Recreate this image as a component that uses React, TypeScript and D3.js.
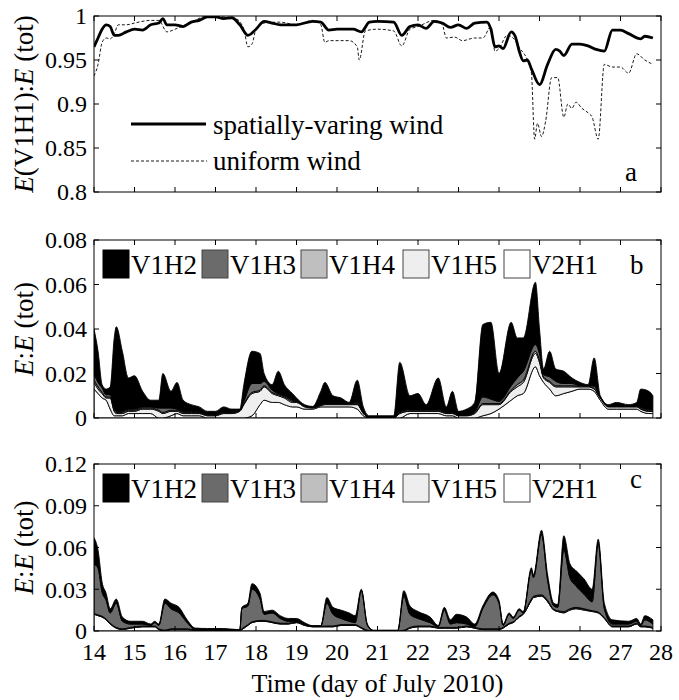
import * as d3 from "d3";
import { useEffect, useRef } from "react";

// ---- panel a: E(V1H1):E(tot) ----
const daysSolid = [14.0, 14.1, 14.2, 14.3, 14.4, 14.5, 14.6, 14.8, 15.0, 15.2, 15.4, 15.6, 15.7, 15.8, 16.0, 16.2, 16.4, 16.6, 16.8, 17.0, 17.2, 17.4, 17.6, 17.8, 18.0, 18.2, 18.4, 18.6, 19.0, 19.4, 19.6, 19.8, 20.0, 20.4, 20.6, 20.8, 21.0, 21.4, 21.6, 21.8, 22.0, 22.2, 22.4, 22.6, 22.8, 23.0, 23.2, 23.4, 23.7, 23.8, 23.9, 24.0, 24.1, 24.3, 24.4, 24.5, 24.6, 24.7, 24.8, 25.0, 25.2, 25.4, 25.5, 25.6, 25.8, 26.0, 26.2, 26.4, 26.6, 26.8, 27.0, 27.2, 27.5, 27.6, 27.8];
const spatialWind = [0.965, 0.975, 0.985, 0.99, 0.988, 0.978, 0.978, 0.982, 0.985, 0.984, 0.99, 0.992, 0.997, 0.99, 0.99, 0.988, 0.993, 0.995, 0.999, 0.999, 0.997, 0.998, 0.99, 0.978, 0.985, 0.994, 0.992, 0.99, 0.99, 0.994, 0.993, 0.984, 0.985, 0.985, 0.982, 0.993, 0.994, 0.993, 0.978, 0.988, 0.99, 0.986, 0.994, 0.992, 0.987, 0.99, 0.986, 0.992, 0.993, 0.985, 0.965, 0.966, 0.963, 0.982, 0.977, 0.96, 0.949, 0.95, 0.94, 0.922, 0.945, 0.962, 0.96, 0.955, 0.968, 0.968, 0.966, 0.962, 0.96, 0.984, 0.984, 0.98, 0.974, 0.977, 0.975];

const daysDashed = [14.0, 14.1, 14.2, 14.3, 14.4, 14.5, 14.6, 14.8, 15.0, 15.4, 15.6, 15.8, 16.0, 16.4, 16.8, 17.2, 17.5, 17.7, 17.8, 17.9, 18.0, 18.2, 18.6, 19.0, 19.4, 19.6, 19.7, 19.8, 20.3, 20.5, 20.55, 20.7, 21.0, 21.4, 21.6, 21.8, 22.0, 22.4, 22.6, 22.7, 22.9, 23.1, 23.4, 23.6, 23.8, 23.9, 24.0, 24.2, 24.35, 24.5, 24.7, 24.8, 24.88, 24.95, 25.05, 25.15, 25.3, 25.45, 25.6, 25.7, 25.8, 25.9, 26.05, 26.2, 26.3, 26.45, 26.6, 26.8, 27.0, 27.2, 27.4, 27.6, 27.8];
const uniformWind = [0.932, 0.945, 0.97, 0.975, 0.974, 0.98, 0.99, 0.99, 0.992, 0.995, 0.995, 0.982, 0.985, 0.993, 1.0, 0.999, 0.997, 0.985, 0.965, 0.968, 0.985, 0.992, 0.993, 0.99, 0.995, 0.99, 0.97, 0.972, 0.972, 0.965, 0.95, 0.983, 0.985, 0.983, 0.966, 0.985, 0.988, 0.995, 0.99, 0.975, 0.976, 0.972, 0.975, 0.975, 0.988, 0.96, 0.963, 0.978, 0.975, 0.964, 0.95, 0.935, 0.86, 0.878, 0.863, 0.88, 0.93, 0.93, 0.885, 0.9, 0.895, 0.902, 0.895, 0.89, 0.885, 0.86, 0.945, 0.942, 0.942, 0.935, 0.957, 0.95, 0.945];

// ---- panel b ----
const daysB = [14.0, 14.1, 14.2, 14.3, 14.4, 14.5, 14.55, 14.7, 14.85, 15.0, 15.2, 15.4, 15.6, 15.7, 15.9, 16.05, 16.2, 16.4, 16.6, 16.8, 17.0, 17.2, 17.4, 17.6, 17.7, 17.9, 18.1, 18.2, 18.4, 18.55, 18.7, 18.9, 19.0, 19.2, 19.4, 19.6, 19.7, 19.9, 20.1, 20.3, 20.5, 20.65, 20.8, 21.0, 21.4, 21.55, 21.8, 22.0, 22.2, 22.5, 22.7, 22.85, 23.0, 23.2, 23.4, 23.6, 23.8, 24.0, 24.3, 24.45, 24.6, 24.9, 25.0, 25.1, 25.25, 25.4, 25.6, 25.8, 26.0, 26.2, 26.35, 26.5, 26.7, 26.9, 27.2, 27.4, 27.5, 27.7, 27.8];
const bV2H1 = [0.013, 0.011, 0.009, 0.008, 0.004, 0.001, 0.001, 0.001, 0.002, 0.002, 0.002, 0.002, 0.0, 0.0, 0.001, 0.002, 0.001, 0.001, 0.001, 0.0, 0.0, 0.0, 0.0, 0.0, 0.0, 0.001, 0.006, 0.008, 0.007, 0.007, 0.006, 0.005, 0.005, 0.004, 0.004, 0.005, 0.005, 0.005, 0.005, 0.005, 0.004, 0.001, 0.0, 0.0, 0.0, 0.0, 0.002, 0.002, 0.002, 0.002, 0.001, 0.001, 0.0, 0.0, 0.0, 0.001, 0.002, 0.004, 0.008, 0.01, 0.011, 0.023, 0.019, 0.016, 0.013, 0.01, 0.011, 0.012, 0.013, 0.013, 0.012, 0.008, 0.004, 0.004, 0.004, 0.004, 0.003, 0.002, 0.002];
const bV1H5 = [0.003, 0.002, 0.002, 0.001, 0.005, 0.002, 0.001, 0.001, 0.001, 0.001, 0.002, 0.002, 0.003, 0.002, 0.002, 0.001, 0.001, 0.001, 0.001, 0.001, 0.001, 0.002, 0.002, 0.003, 0.006, 0.01, 0.006, 0.006, 0.004, 0.003, 0.003, 0.002, 0.002, 0.001, 0.0005, 0.0005, 0.001, 0.001, 0.001, 0.001, 0.002, 0.001, 0.0, 0.0, 0.0, 0.002, 0.001, 0.001, 0.001, 0.001, 0.001, 0.001, 0.001, 0.001, 0.002, 0.005, 0.004, 0.002, 0.004, 0.004, 0.005, 0.006, 0.006, 0.002, 0.003, 0.004, 0.003, 0.002, 0.001, 0.001, 0.001, 0.001, 0.001, 0.001, 0.001, 0.001, 0.001, 0.001, 0.001];
const bV1H4 = [0.001, 0.001, 0.0005, 0.0005, 0.0005, 0.0005, 0.0005, 0.0005, 0.0005, 0.0005, 0.0005, 0.0005, 0.0005, 0.0005, 0.0005, 0.0005, 0.0005, 0.0005, 0.0003, 0.0003, 0.0003, 0.0003, 0.0003, 0.0003, 0.0005, 0.0005, 0.0005, 0.0005, 0.0005, 0.0005, 0.0005, 0.0005, 0.0003, 0.0003, 0.0002, 0.0003, 0.0003, 0.0003, 0.0003, 0.0003, 0.0003, 0.0002, 0.0001, 0.0001, 0.0001, 0.0003, 0.0003, 0.0003, 0.0003, 0.0003, 0.0003, 0.0003, 0.0002, 0.0002, 0.0003, 0.0005, 0.0005, 0.0005, 0.0005, 0.001, 0.001, 0.001, 0.001, 0.0005, 0.0005, 0.0005, 0.0005, 0.0005, 0.0003, 0.0003, 0.0003, 0.0002, 0.0002, 0.0002, 0.0002, 0.0002, 0.0002, 0.0002, 0.0002];
const bV1H3 = [0.003, 0.002, 0.002, 0.001, 0.001, 0.001, 0.0005, 0.0005, 0.0005, 0.0005, 0.0005, 0.0005, 0.001, 0.002, 0.001, 0.0005, 0.0005, 0.0005, 0.0003, 0.0003, 0.0003, 0.0003, 0.0003, 0.0003, 0.001, 0.004, 0.003, 0.002, 0.001, 0.0005, 0.0005, 0.0005, 0.0003, 0.0003, 0.0002, 0.0003, 0.0003, 0.0003, 0.0003, 0.0003, 0.0005, 0.0003, 0.0001, 0.0001, 0.0001, 0.0005, 0.0005, 0.0005, 0.0005, 0.0005, 0.0003, 0.0003, 0.0002, 0.0002, 0.0005, 0.003, 0.002, 0.001, 0.002, 0.003, 0.004, 0.003, 0.003, 0.001, 0.002, 0.002, 0.001, 0.001, 0.0003, 0.0003, 0.001, 0.0003, 0.0002, 0.0002, 0.0002, 0.0002, 0.0005, 0.0005, 0.0005];
const bV1H2 = [0.02, 0.014, 0.0015, 0.0025, 0.0035, 0.0315, 0.038, 0.027, 0.014, 0.015, 0.007, 0.003, 0.0035, 0.0155, 0.0075, 0.012, 0.005, 0.003, 0.0024, 0.0014, 0.0014, 0.0024, 0.0014, 0.0004, 0.0075, 0.0145, 0.0135, 0.0035, 0.0025, 0.01, 0.005, 0.003, 0.0014, 0.0004, 0.0003, 0.0059, 0.0094, 0.0034, 0.0024, 0.0004, 0.0102, 0.0025, 0.0008, 0.0008, 0.0008, 0.0222, 0.0062, 0.0072, 0.0022, 0.0142, 0.0024, 0.0094, 0.0016, 0.0026, 0.0042, 0.0325, 0.0345, 0.0125, 0.0285, 0.018, 0.015, 0.028, 0.011, 0.0025, 0.0115, 0.0055, 0.0055, 0.0025, 0.0014, 0.0004, 0.0127, 0.0005, 0.0006, 0.0016, 0.0006, 0.0016, 0.0083, 0.0083, 0.0063];

// ---- panel c ----
const daysC = [14.0, 14.1, 14.2, 14.3, 14.4, 14.55, 14.7, 14.9, 15.2, 15.4, 15.5, 15.6, 15.75, 15.9, 16.1, 16.3, 16.5, 16.8, 17.2, 17.6, 17.65, 17.8, 17.9, 18.1, 18.2, 18.4, 18.6, 18.8, 19.0, 19.2, 19.4, 19.6, 19.75, 19.9, 20.1, 20.3, 20.45, 20.6, 20.75, 20.9, 21.5, 21.65, 21.8, 22.0, 22.3, 22.5, 22.65, 22.8, 22.95, 23.2, 23.4, 23.6, 23.85, 24.0, 24.1, 24.25, 24.35, 24.5, 24.6, 24.8, 24.85, 25.05, 25.2, 25.35, 25.45, 25.6, 25.75, 25.9, 26.1, 26.3, 26.45, 26.6, 26.8, 27.2, 27.4, 27.5, 27.6, 27.8];
const cV2H1 = [0.012, 0.011, 0.01, 0.008, 0.005, 0.002, 0.001, 0.002, 0.003, 0.003, 0.003, 0.001, 0.0, 0.001, 0.001, 0.001, 0.0005, 0.0005, 0.0005, 0.0003, 0.001, 0.004, 0.006, 0.007, 0.007, 0.006, 0.005, 0.005, 0.006, 0.004, 0.003, 0.003, 0.003, 0.003, 0.004, 0.004, 0.004, 0.002, 0.0, 0.0, 0.0, 0.0, 0.002, 0.003, 0.003, 0.002, 0.002, 0.002, 0.002, 0.003, 0.002, 0.001, 0.001, 0.001, 0.002, 0.005, 0.006, 0.01, 0.012, 0.022, 0.024, 0.025, 0.021, 0.015, 0.014, 0.013, 0.015, 0.016, 0.015, 0.014, 0.013, 0.009, 0.003, 0.003, 0.005, 0.003, 0.003, 0.002];
const cV1H5 = [0.0003, 0.0003, 0.0003, 0.0003, 0.0003, 0.0003, 0.0003, 0.0003, 0.0003, 0.0003, 0.0003, 0.0003, 0.0003, 0.0003, 0.0003, 0.0003, 0.0002, 0.0002, 0.0002, 0.0001, 0.0003, 0.0003, 0.0003, 0.0003, 0.0003, 0.0003, 0.0003, 0.0003, 0.0003, 0.0003, 0.0002, 0.0002, 0.0003, 0.0003, 0.0003, 0.0003, 0.0003, 0.0003, 0.0003, 0.0001, 0.0001, 0.0003, 0.0003, 0.0003, 0.0003, 0.0003, 0.0003, 0.0003, 0.0003, 0.0003, 0.0003, 0.0003, 0.0003, 0.0003, 0.0003, 0.0003, 0.0003, 0.0003, 0.0003, 0.0005, 0.0005, 0.0005, 0.0005, 0.0003, 0.0003, 0.0005, 0.0005, 0.0005, 0.0005, 0.0003, 0.0003, 0.0003, 0.0003, 0.0003, 0.0003, 0.0003, 0.0003, 0.0003];
const cV1H4 = [0.0003, 0.0003, 0.0003, 0.0003, 0.0003, 0.0003, 0.0003, 0.0003, 0.0003, 0.0003, 0.0003, 0.0003, 0.0003, 0.0003, 0.0003, 0.0003, 0.0002, 0.0002, 0.0002, 0.0001, 0.0003, 0.0003, 0.0003, 0.0003, 0.0003, 0.0003, 0.0003, 0.0003, 0.0003, 0.0003, 0.0002, 0.0002, 0.0003, 0.0003, 0.0003, 0.0003, 0.0003, 0.0003, 0.0003, 0.0001, 0.0001, 0.0003, 0.0003, 0.0003, 0.0003, 0.0003, 0.0003, 0.0003, 0.0003, 0.0003, 0.0003, 0.0003, 0.0003, 0.0003, 0.0003, 0.0003, 0.0003, 0.0003, 0.0003, 0.0005, 0.0005, 0.0005, 0.0005, 0.0003, 0.0003, 0.0005, 0.0005, 0.0005, 0.0005, 0.0003, 0.0003, 0.0003, 0.0003, 0.0003, 0.0003, 0.0003, 0.0003, 0.0003];
const cV1H3 = [0.0354, 0.0334, 0.0174, 0.0134, 0.0074, 0.0174, 0.0054, 0.0024, 0.0014, 0.0004, 0.0024, 0.0024, 0.0194, 0.0144, 0.0114, 0.0044, 0.0002, 0.0002, 0.0002, 0.0001, 0.0144, 0.0134, 0.0234, 0.0154, 0.0044, 0.0064, 0.0034, 0.0014, 0.0004, 0.0004, 0.0001, 0.0001, 0.0164, 0.0084, 0.0044, 0.0024, 0.0014, 0.0264, 0.0034, 0.0001, 0.0001, 0.0244, 0.0094, 0.0054, 0.0024, 0.0004, 0.0124, 0.0024, 0.0034, 0.0014, 0.0004, 0.0144, 0.0244, 0.0184, 0.0014, 0.0064, 0.0024, 0.0044, 0.0004, 0.0204, 0.0134, 0.0434, 0.0144, 0.0024, 0.0024, 0.0444, 0.0224, 0.0154, 0.0104, 0.0064, 0.0494, 0.0064, 0.0014, 0.0014, 0.0014, 0.0004, 0.0044, 0.0024];
const cV1H2 = [0.019, 0.013, 0.007, 0.005, 0.003, 0.003, 0.003, 0.002, 0.002, 0.001, 0.001, 0.001, 0.003, 0.004, 0.004, 0.002, 0.001, 0.0007, 0.0007, 0.0003, 0.001, 0.002, 0.004, 0.004, 0.002, 0.002, 0.002, 0.002, 0.002, 0.001, 0.0003, 0.0003, 0.004, 0.005, 0.006, 0.006, 0.005, 0.001, 0.001, 0.0003, 0.0003, 0.004, 0.006, 0.005, 0.004, 0.001, 0.002, 0.003, 0.006, 0.005, 0.002, 0.002, 0.002, 0.002, 0.001, 0.001, 0.001, 0.001, 0.001, 0.002, 0.002, 0.003, 0.004, 0.002, 0.002, 0.01, 0.01, 0.011, 0.011, 0.009, 0.003, 0.004, 0.003, 0.002, 0.002, 0.001, 0.003, 0.003];

// ---- 刻度 / 圖例 ----
const dayTicks = [14, 15, 16, 17, 18, 19, 20, 21, 22, 23, 24, 25, 26, 27, 28];
const ticksA = [0.8, 0.85, 0.9, 0.95, 1];
const ticksB = [0, 0.02, 0.04, 0.06, 0.08];
const ticksC = [0, 0.03, 0.06, 0.09, 0.12];
const layerNames = ["V1H2", "V1H3", "V1H4", "V1H5", "V2H1"];
const layerColors = ["#000000", "#6b6b6b", "#bfbfbf", "#eeeeee", "#ffffff"];

const FONT = "Liberation Serif, DejaVu Serif, Times New Roman, serif";

export default function App() {
  const ref = useRef(null);

  useEffect(() => {
    const width = 679;
    const height = 700;
    const left = 94;
    const right = 661;
    const tickFs = 24;
    const textFs = 27;

    const svg = d3.select(ref.current);
    svg.selectAll("*").remove();
    svg.attr("viewBox", `0 0 ${width} ${height}`)
      .attr("width", width).attr("height", height)
      .attr("font-family", FONT);
    svg.append("rect").attr("width", width).attr("height", height).attr("fill", "#fff");

    const x = d3.scaleLinear().domain([14, 28]).range([left, right]);

    // 畫框 + 刻度
    function frame(top, bottom, y, yTicks, fmt, id) {
      const g = svg.append("g");
      g.append("rect")
        .attr("x", left).attr("y", top)
        .attr("width", right - left).attr("height", bottom - top)
        .attr("fill", "none").attr("stroke", "#000").attr("stroke-width", 1);
      const tl = 5;
      dayTicks.forEach((d) => {
        g.append("line").attr("x1", x(d)).attr("x2", x(d)).attr("y1", bottom).attr("y2", bottom - tl).attr("stroke", "#000");
        g.append("line").attr("x1", x(d)).attr("x2", x(d)).attr("y1", top).attr("y2", top + tl).attr("stroke", "#000");
      });
      yTicks.forEach((v) => {
        g.append("line").attr("x1", left).attr("x2", left + tl).attr("y1", y(v)).attr("y2", y(v)).attr("stroke", "#000");
        g.append("line").attr("x1", right).attr("x2", right - tl).attr("y1", y(v)).attr("y2", y(v)).attr("stroke", "#000");
        g.append("text")
          .attr("x", left - 7).attr("y", y(v)).attr("dy", "0.35em")
          .attr("text-anchor", "end").attr("font-size", tickFs)
          .text(fmt(v));
      });
      svg.append("clipPath").attr("id", id).append("rect")
        .attr("x", left).attr("y", top).attr("width", right - left).attr("height", bottom - top);
    }

    function yLabel(cy, pre, rest) {
      const t = svg.append("text")
        .attr("transform", `translate(33,${cy}) rotate(-90)`)
        .attr("text-anchor", "middle").attr("font-size", textFs);
      t.append("tspan").attr("font-style", "italic").text("E");
      t.append("tspan").text(pre);
      t.append("tspan").attr("font-style", "italic").text("E");
      t.append("tspan").text(rest);
    }

    // ---- panel a ----
    const aTop = 16, aBottom = 192;
    const yA = d3.scaleLinear().domain([0.8, 1]).range([aBottom, aTop]);
    frame(aTop, aBottom, yA, ticksA, (v) => (v === 1 ? "1" : d3.format("")(v)), "clipA");
    yLabel((aTop + aBottom) / 2, "(V1H1):", " (tot)");

    const line = d3.line().x((d) => x(d[0])).y((d) => yA(d[1])).curve(d3.curveMonotoneX);
    const gA = svg.append("g").attr("clip-path", "url(#clipA)");
    gA.append("path")
      .datum(daysDashed.map((d, i) => [d, uniformWind[i]]))
      .attr("d", line).attr("fill", "none").attr("stroke", "#000")
      .attr("stroke-width", 0.9).attr("stroke-dasharray", "3,2");
    gA.append("path")
      .datum(daysSolid.map((d, i) => [d, spatialWind[i]]))
      .attr("d", line).attr("fill", "none").attr("stroke", "#000").attr("stroke-width", 2.8);

    // 圖例 a
    svg.append("line").attr("x1", 131).attr("x2", 206).attr("y1", 124).attr("y2", 124).attr("stroke", "#000").attr("stroke-width", 2.8);
    svg.append("text").attr("x", 213).attr("y", 134).attr("font-size", textFs).text("spatially-varing wind");
    svg.append("line").attr("x1", 131).attr("x2", 207).attr("y1", 161).attr("y2", 161).attr("stroke", "#000").attr("stroke-width", 0.9).attr("stroke-dasharray", "3,2");
    svg.append("text").attr("x", 213).attr("y", 170).attr("font-size", textFs).text("uniform wind");
    svg.append("text").attr("x", 625).attr("y", 181).attr("font-size", textFs).text("a");

    // ---- 堆疊面積 ----
    const stackKeys = ["V2H1", "V1H5", "V1H4", "V1H3", "V1H2"];
    const colorOf = (k) => layerColors[layerNames.indexOf(k)];

    function stackPanel(top, bottom, domainMax, yTicks, days, series, id, letter, letterY) {
      const y = d3.scaleLinear().domain([0, domainMax]).range([bottom, top]);
      const rows = days.map((d, i) => {
        const r = { day: d };
        stackKeys.forEach((k) => (r[k] = series[k][i]));
        return r;
      });
      const layers = d3.stack().keys(stackKeys)(rows);
      const area = d3.area()
        .x((d) => x(d.data.day))
        .y0((d) => y(d[0]))
        .y1((d) => y(d[1]))
        .curve(d3.curveMonotoneX);

      const g = svg.append("g").attr("clip-path", `url(#${id})`);
      g.selectAll("path")
        .data(layers)
        .join("path")
        .attr("d", area)
        .attr("fill", (d) => colorOf(d.key))
        .attr("stroke", "#000")
        .attr("stroke-width", 0.9)
        .attr("stroke-linejoin", "round");

      frame(top, bottom, y, yTicks, (v) => (v === 0 ? "0" : d3.format(".2f")(v)), id);
      yLabel((top + bottom) / 2, ":", " (tot)");

      // 圖例
      const legX = [103, 202, 301, 403, 504];
      const ly = top + 10;
      layerNames.forEach((n, i) => {
        svg.append("rect")
          .attr("x", legX[i]).attr("y", ly).attr("width", 26).attr("height", 28)
          .attr("fill", layerColors[i])
          .attr("stroke", i === 0 ? "#000" : "#444").attr("stroke-width", 1);
        svg.append("text")
          .attr("x", legX[i] + 28).attr("y", ly + 24)
          .attr("font-size", textFs).text(n);
      });
      svg.append("text").attr("x", 630).attr("y", letterY).attr("font-size", textFs).text(letter);
    }

    stackPanel(240, 418, 0.08, ticksB, daysB,
      { V1H2: bV1H2, V1H3: bV1H3, V1H4: bV1H4, V1H5: bV1H5, V2H1: bV2H1 },
      "clipB", "b", 274);
    stackPanel(464, 631, 0.12, ticksC, daysC,
      { V1H2: cV1H2, V1H3: cV1H3, V1H4: cV1H4, V1H5: cV1H5, V2H1: cV2H1 },
      "clipC", "c", 488);

    // x 軸刻度文字 (僅最下方)
    dayTicks.forEach((d) => {
      svg.append("text")
        .attr("x", x(d)).attr("y", 660)
        .attr("text-anchor", "middle").attr("font-size", tickFs)
        .text(d);
    });
    svg.append("text")
      .attr("x", (left + right) / 2).attr("y", 692)
      .attr("text-anchor", "middle").attr("font-size", textFs - 1)
      .text("Time (day of July 2010)");
  }, []);

  return (
    <div style={{ position: "fixed", left: 0, top: 0 }}>
      <svg ref={ref} style={{ display: "block" }} />
    </div>
  );
}
